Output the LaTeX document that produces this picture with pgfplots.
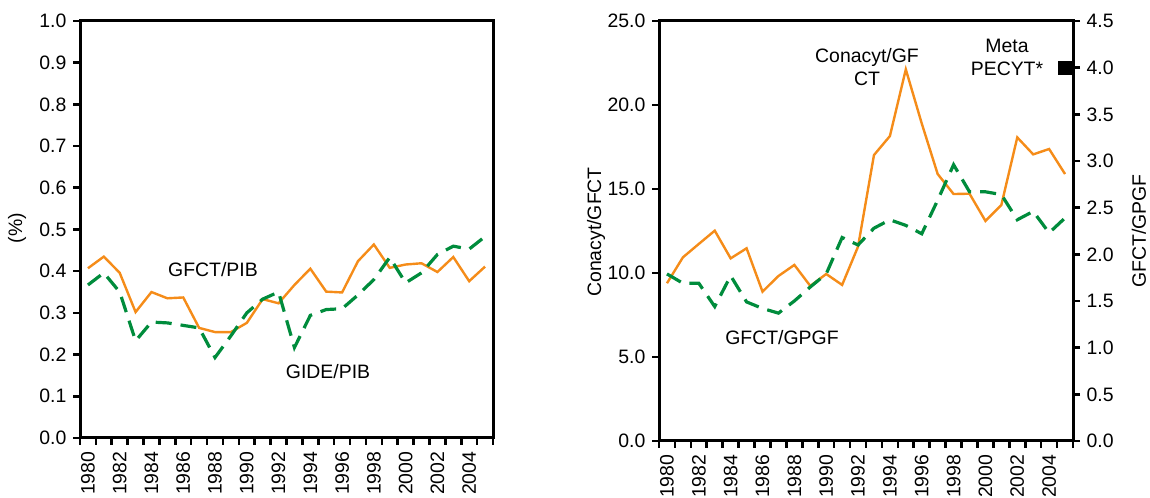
\documentclass[border=0pt]{standalone}
\usepackage{fontspec}
\setmainfont{Liberation Sans}
\usepackage{pgfplots}
\pgfplotsset{compat=1.18}
\definecolor{ora}{RGB}{245,140,25}
\definecolor{grn}{RGB}{0,140,60}
\pgfplotsset{
  base/.style={
    scale only axis, anchor=south west,
    xmin=1979.5, xmax=2005.5,
    /pgf/number format/assume math mode=true,
    axis line style={line width=3bp},
    every tick/.style={line width=2.6bp, black},
    major tick length=7bp, minor tick length=7bp,
    tick align=outside,
    xtick={1980,1982,1984,1986,1988,1990,1992,1994,1996,1998,2000,2002,2004},
    xticklabels={1980,1982,1984,1986,1988,1990,1992,1994,1996,1998,2000,2002,2004},
    every major x tick/.style={draw=none},
    minor xtick={1979.5,1980.5,...,2005.5},
    xticklabel style={rotate=90, anchor=east},
    yticklabel style={/pgf/number format/fixed, /pgf/number format/fixed zerofill, /pgf/number format/precision=1},
    clip=false,
  },
  orl/.style={color=ora, line width=2.4bp, mark=none},
  grl/.style={color=grn, line width=3.2bp, mark=none, dash pattern=on 16bp off 9bp},
}
\pgfplotstableread{
year gfct gide conacyt gpgf
1980 0.407 0.367 9.39 1.79
1981 0.435 0.396 10.93 1.69
1982 0.396 0.350 11.73 1.69
1983 0.302 0.233 12.52 1.44
1984 0.350 0.278 10.87 1.77
1985 0.335 0.276 11.47 1.49
1986 0.337 0.270 8.89 1.42
1987 0.264 0.264 9.82 1.37
1988 0.254 0.193 10.48 1.50
1989 0.254 0.245 9.23 1.65
1990 0.276 0.300 9.94 1.79
1991 0.333 0.333 9.29 2.18
1992 0.323 0.350 11.57 2.10
1993 0.367 0.217 17.02 2.28
1994 0.406 0.294 18.15 2.37
1995 0.351 0.308 22.12 2.31
1996 0.349 0.310 18.90 2.22
1997 0.424 0.343 15.89 2.58
1998 0.464 0.380 14.70 2.96
1999 0.408 0.433 14.72 2.67
2000 0.416 0.372 13.10 2.67
2001 0.419 0.396 14.05 2.64
2002 0.398 0.440 18.07 2.37
2003 0.434 0.460 17.06 2.46
2004 0.376 0.453 17.38 2.23
2005 0.411 0.483 15.89 2.39
}\data
\begin{document}
\fontsize{19.5}{23}\selectfont
\begin{tikzpicture}[x=1bp,y=1bp]
\path[use as bounding box] (0,0) rectangle (1150,498);
% left chart
\begin{axis}[base, at={(80bp,60bp)}, width=413bp, height=417bp,
  ymin=0, ymax=1, ytick={0,0.1,0.2,0.3,0.4,0.5,0.6,0.7,0.8,0.9,1.0},
  xtick pos=bottom, ytick pos=left]
\addplot[orl] table[x=year,y=gfct]{\data};
\addplot[grl] table[x=year,y=gide]{\data};
\end{axis}
% right chart, left axis
\begin{axis}[base, at={(659bp,57bp)}, width=414bp, height=420bp,
  ymin=0, ymax=25, ytick={0,5,10,15,20,25},
  xtick pos=bottom, ytick pos=left]
\addplot[orl] table[x=year,y=conacyt]{\data};
\end{axis}
% right chart, right axis
\begin{axis}[base, at={(659bp,57bp)}, width=414bp, height=420bp,
  ymin=0, ymax=4.5, ytick={0,0.5,1,1.5,2,2.5,3,3.5,4,4.5},
  axis x line=none, axis y line*=right]
\addplot[grl] table[x=year,y=gpgf]{\data};
\addplot[only marks, mark=square*, mark size=6.5bp, black] coordinates {(2005,4.0)};
\end{axis}
% text
\node[rotate=90] at (17,270) {(\%)};
\node at (213,228) {GFCT/PIB};
\node at (328,126) {GIDE/PIB};
\node[align=center] at (867,431) {Conacyt/GF\\CT};
\node[align=center] at (1007,441) {Meta\\PECYT*};
\node at (782,160) {GFCT/GPGF};
\node[rotate=90] at (596,266) {Conacyt/GFCT};
\node[rotate=90] at (1139,267) {GFCT/GPGF};
\end{tikzpicture}
\end{document}
